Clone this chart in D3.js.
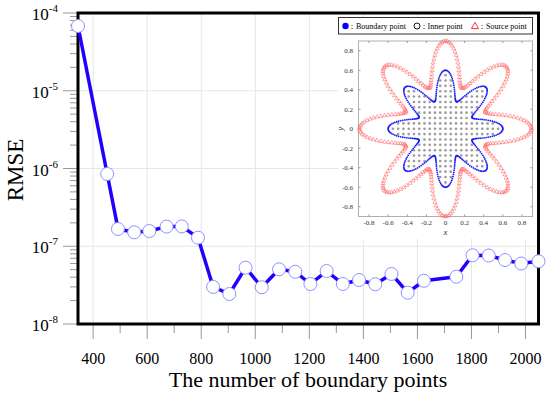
<!DOCTYPE html>
<html>
<head>
<meta charset="utf-8">
<script src="https://cdn.jsdelivr.net/npm/d3@7"></script>
<style>
  body { margin: 0; background: #fff; }
  text { font-family: "Liberation Serif", "Times New Roman", serif; }
</style>
</head>
<body>
<div id="chart"></div>
<script>
// main series
var boundaryCounts = [344, 452, 492, 552, 608, 672, 728, 788, 844, 904, 964, 1024, 1088, 1148,
  1204, 1264, 1324, 1384, 1444, 1504, 1564, 1624, 1744, 1804, 1864, 1924, 1984, 2048];
var rmseValues = [6.8e-5, 8.5e-7, 1.67e-7, 1.51e-7, 1.57e-7, 1.79e-7, 1.8e-7, 1.29e-7, 3.0e-8, 2.43e-8,
  5.3e-8, 2.97e-8, 5.05e-8, 4.7e-8, 3.27e-8, 4.8e-8, 3.27e-8, 3.68e-8, 3.24e-8, 4.4e-8,
  2.53e-8, 3.6e-8, 4.06e-8, 7.65e-8, 7.6e-8, 6.65e-8, 6.0e-8, 6.4e-8];
var xTicks = [400, 600, 800, 1000, 1200, 1400, 1600, 1800, 2000];
var yExponents = [-4, -5, -6, -7, -8];

// inset: star shaped domain r = base + amp*cos(petals*t), sources on a 1.5x scaled copy
var starShape = {petals: 8, base: 0.45, amp: 0.15};
var sourceScale = 1.5;
var insetTicks = [-0.8, -0.6, -0.4, -0.2, 0, 0.2, 0.4, 0.6, 0.8];
var legendLabels = ["：Boundary point", "：Inner point", "：Source point"];

var W = 550, H = 396;
var pL = 78, pR = 538.5, pT = 13, pB = 324;

var svg = d3.select("#chart").append("svg")
  .attr("width", W).attr("height", H);

var x = d3.scaleLinear().domain([344, 2048]).range([pL, pR]);
var y = d3.scaleLog().domain([1e-8, 1e-4]).range([pB, pT]);

// grid
svg.selectAll(".vgrid").data(xTicks).enter().append("line")
  .attr("x1", d => x(d)).attr("x2", d => x(d))
  .attr("y1", pT).attr("y2", pB)
  .attr("stroke", "#e6e6e6").attr("stroke-width", 1);
svg.selectAll(".hgrid").data(yExponents).enter().append("line")
  .attr("x1", pL).attr("x2", pR)
  .attr("y1", d => y(Math.pow(10, d))).attr("y2", d => y(Math.pow(10, d)))
  .attr("stroke", "#e6e6e6").attr("stroke-width", 1);

// x ticks (major + minor)
var xMinor = d3.range(500, 2048, 200);
svg.selectAll(".xmaj").data(xTicks).enter().append("line")
  .attr("x1", d => x(d)).attr("x2", d => x(d))
  .attr("y1", pB).attr("y2", pB + 15)
  .attr("stroke", "#999");
svg.selectAll(".xmin").data(xMinor).enter().append("line")
  .attr("x1", d => x(d)).attr("x2", d => x(d))
  .attr("y1", pB).attr("y2", pB + 9)
  .attr("stroke", "#999");
svg.selectAll(".xlab").data(xTicks).enter().append("text")
  .attr("x", d => x(d)).attr("y", 363.5)
  .attr("text-anchor", "middle")
  .style("font-size", "16px")
  .text(d => d);

// y ticks
var yMinor = [];
yExponents.slice(1).forEach(function (e) {
  for (var k = 2; k <= 9; k++) yMinor.push(k * Math.pow(10, e));
});
svg.selectAll(".ymaj").data(yExponents).enter().append("line")
  .attr("x1", pL - 15).attr("x2", pL)
  .attr("y1", d => y(Math.pow(10, d))).attr("y2", d => y(Math.pow(10, d)))
  .attr("stroke", "#999");
svg.selectAll(".ymin").data(yMinor).enter().append("line")
  .attr("x1", pL - 8).attr("x2", pL)
  .attr("y1", d => y(d)).attr("y2", d => y(d))
  .attr("stroke", "#999");
var ylab = svg.selectAll(".ylab").data(yExponents).enter().append("text")
  .attr("x", 58).attr("y", d => y(Math.pow(10, d)) + 7)
  .attr("text-anchor", "end")
  .style("font-size", "17px");
ylab.append("tspan").text("10");
ylab.append("tspan").attr("dy", -8).style("font-size", "11px").text(d => d);

// axis titles
svg.append("text")
  .attr("transform", "translate(23,170) rotate(-90)")
  .attr("text-anchor", "middle")
  .style("font-size", "23px")
  .text("RMSE");
svg.append("text")
  .attr("x", 308).attr("y", 387)
  .attr("text-anchor", "middle")
  .style("font-size", "22px")
  .text("The number of boundary points");

// inset
var ix = d3.scaleLinear().domain([-0.91, 0.91]).range([358.5, 532.5]);
var iy = d3.scaleLinear().domain([-0.9, 0.9]).range([216.5, 41]);
var inset = svg.append("g");
inset.append("rect")
  .attr("x", 338).attr("y", 17).attr("width", 199).attr("height", 222)
  .attr("fill", "#fff");
inset.append("rect")
  .attr("x", ix(-0.91)).attr("y", iy(0.9))
  .attr("width", ix(0.91) - ix(-0.91)).attr("height", iy(-0.9) - iy(0.9))
  .attr("fill", "#fff").attr("stroke", "#b0b0b0").attr("stroke-width", 1);

// inset ticks
insetTicks.forEach(function (t) {
  inset.append("line").attr("x1", ix(t)).attr("x2", ix(t))
    .attr("y1", iy(-0.9)).attr("y2", iy(-0.9) - 2).attr("stroke", "#999");
  inset.append("line").attr("x1", ix(t)).attr("x2", ix(t))
    .attr("y1", iy(0.9)).attr("y2", iy(0.9) + 2).attr("stroke", "#999");
  inset.append("line").attr("x1", ix(-0.91)).attr("x2", ix(-0.91) + 2)
    .attr("y1", iy(t)).attr("y2", iy(t)).attr("stroke", "#999");
  inset.append("line").attr("x1", ix(0.91)).attr("x2", ix(0.91) - 2)
    .attr("y1", iy(t)).attr("y2", iy(t)).attr("stroke", "#999");
});
inset.selectAll(".ixl").data(insetTicks).enter().append("text")
  .attr("x", d => ix(d)).attr("y", 225)
  .attr("text-anchor", "middle")
  .style("font-size", "7px").attr("fill", "#333")
  .text(d => d);
inset.selectAll(".iyl").data(insetTicks).enter().append("text")
  .attr("x", 353).attr("y", d => iy(d) + 2.5)
  .attr("text-anchor", "end")
  .style("font-size", "7px").attr("fill", "#333")
  .text(d => d);
inset.append("text").attr("x", ix(0)).attr("y", 235)
  .attr("text-anchor", "middle").style("font-size", "9px").style("font-style", "italic")
  .attr("fill", "#333").text("x");
inset.append("text").attr("transform", "translate(343," + iy(0) + ") rotate(-90)")
  .attr("text-anchor", "middle").style("font-size", "9px").style("font-style", "italic")
  .attr("fill", "#333").text("y");

function starR(t) {
  return starShape.base + starShape.amp * Math.cos(starShape.petals * t);
}

// inner points on a grid
var inner = [];
var step = 0.055;
for (var i = -12; i <= 12; i++) {
  for (var j = -12; j <= 12; j++) {
    var px = i * step, py = j * step;
    var r = Math.sqrt(px * px + py * py);
    var t = Math.atan2(py, px);
    if (r < starR(t) - 0.035) inner.push([px, py]);
  }
}
inset.selectAll(".inner").data(inner).enter().append("circle")
  .attr("cx", d => ix(d[0])).attr("cy", d => iy(d[1]))
  .attr("r", 1.3).attr("fill", "#9a9a9a");

// boundary points
var nb = 360;
var bnd = d3.range(nb).map(function (k) {
  var t = 2 * Math.PI * k / nb;
  return [starR(t) * Math.cos(t), starR(t) * Math.sin(t)];
});
inset.selectAll(".bnd").data(bnd).enter().append("circle")
  .attr("cx", d => ix(d[0])).attr("cy", d => iy(d[1]))
  .attr("r", 0.9).attr("fill", "#1a1aff");

// source points
var ns = 300;
var src = d3.range(ns).map(function (k) {
  var t = 2 * Math.PI * k / ns;
  var r = sourceScale * starR(t);
  return [r * Math.cos(t), r * Math.sin(t)];
});
var tri = d3.symbol().type(d3.symbolTriangle).size(7);
inset.selectAll(".src").data(src).enter().append("path")
  .attr("d", tri)
  .attr("transform", d => "translate(" + ix(d[0]) + "," + iy(d[1]) + ")")
  .attr("fill", "none").attr("stroke", "#ff7070").attr("stroke-width", 0.6);

// legend
inset.append("rect")
  .attr("x", 338.5).attr("y", 17.5).attr("width", 194).attr("height", 16.5)
  .attr("fill", "#fff").attr("stroke", "#333").attr("stroke-width", 1);
inset.append("circle").attr("cx", 345.5).attr("cy", 26).attr("r", 3.2).attr("fill", "#0000ff");
inset.append("text").attr("x", 348).attr("y", 29).style("font-size", "8px").text(legendLabels[0]);
inset.append("circle").attr("cx", 417).attr("cy", 26).attr("r", 3).attr("fill", "none")
  .attr("stroke", "#000").attr("stroke-width", 0.9);
inset.append("text").attr("x", 419.5).attr("y", 29).style("font-size", "8px").text(legendLabels[1]);
inset.append("path").attr("d", d3.symbol().type(d3.symbolTriangle).size(22))
  .attr("transform", "translate(475,26.5)")
  .attr("fill", "none").attr("stroke", "#ff3030").attr("stroke-width", 1);
inset.append("text").attr("x", 478).attr("y", 29).style("font-size", "8px").text(legendLabels[2]);

// frame
svg.append("rect")
  .attr("x", pL).attr("y", pT).attr("width", pR - pL).attr("height", pB - pT)
  .attr("fill", "none").attr("stroke", "#000").attr("stroke-width", 3);

// series
var pts = boundaryCounts.map((c, k) => ({n: c, v: rmseValues[k]}));
svg.append("path").datum(pts)
  .attr("d", d3.line().x(d => x(d.n)).y(d => y(d.v)))
  .attr("fill", "none").attr("stroke", "#2200ff").attr("stroke-width", 3.5)
  .attr("stroke-linejoin", "round");
svg.selectAll(".pt").data(pts).enter().append("circle")
  .attr("cx", d => x(d.n)).attr("cy", d => y(d.v))
  .attr("r", 6.5).attr("fill", "#fff")
  .attr("stroke", "#9090ff").attr("stroke-width", 1);
</script>
</body>
</html>
